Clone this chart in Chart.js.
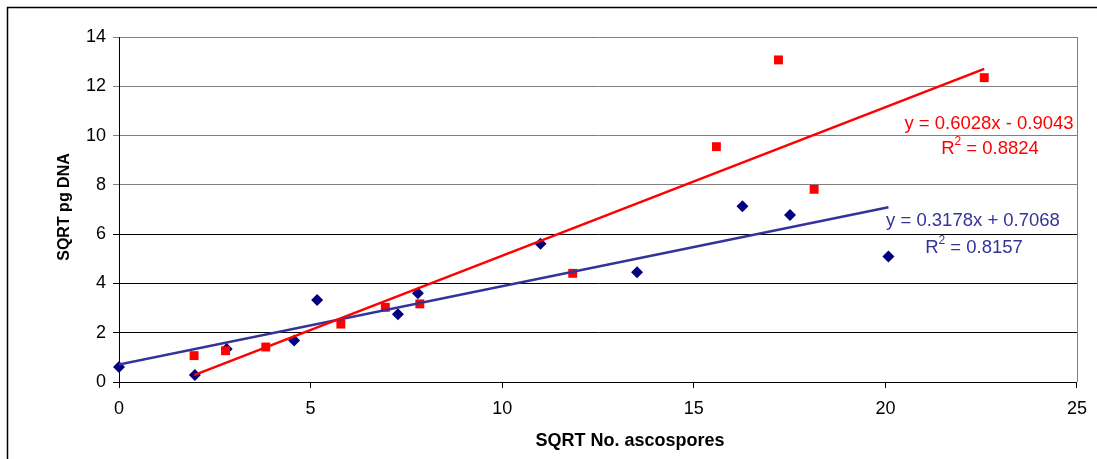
<!DOCTYPE html>
<html>
<head>
<meta charset="utf-8">
<script src="https://cdn.jsdelivr.net/npm/chart.js@4.4.0/dist/chart.umd.min.js"></script>
<style>
  body { margin: 0; background: #fff; }
  canvas { display: block; }
</style>
</head>
<body>
<canvas id="ascoChart" width="1097" height="459"></canvas>
<script>
// blue diamonds
const blueX = [0, 1.98, 2.81, 4.57, 5.17, 7.28, 7.80, 11.0, 13.52, 16.27, 17.51, 20.08];
const blueY = [0.61, 0.28, 1.34, 1.68, 3.33, 2.75, 3.60, 5.61, 4.45, 7.13, 6.78, 5.09];
// red squares
const redX = [1.96, 2.78, 3.83, 5.79, 6.95, 7.85, 11.84, 15.59, 17.21, 18.14, 22.58];
const redY = [1.07, 1.27, 1.42, 2.35, 3.03, 3.17, 4.41, 9.55, 13.07, 7.82, 12.35];

// trendline coefficients as printed on the chart
const blueSlope = 0.3178, blueIntercept = 0.7068, blueR2 = '0.8157';
const redSlope = 0.6028, redIntercept = -0.9043, redR2 = '0.8824';

const xTicks = [0, 5, 10, 15, 20, 25];
const yTicks = [0, 2, 4, 6, 8, 10, 12, 14];

const FONT = '"Liberation Sans", Arial, sans-serif';
const EQ = 18.5;

function toPoints(xs, ys) {
    return xs.map((x, i) => ({ x: x, y: ys[i] }));
}

function trend(xs, m, b) {
    const lo = Math.min(...xs), hi = Math.max(...xs);
    return [{ x: lo, y: m * lo + b }, { x: hi, y: m * hi + b }];
}

function drawR2(ctx, cx, cy, value, color) {
    ctx.font = EQ + 'px ' + FONT;
    const rest = ' = ' + value;
    const wR = ctx.measureText('R').width;
    const wRest = ctx.measureText(rest).width;
    ctx.font = '12px ' + FONT;
    const w2 = ctx.measureText('2').width;
    let x = cx - (wR + w2 + wRest) / 2;
    ctx.fillStyle = color;
    ctx.textAlign = 'left';
    ctx.textBaseline = 'middle';
    ctx.font = EQ + 'px ' + FONT;
    ctx.fillText('R', x, cy);
    x += wR;
    ctx.font = '12px ' + FONT;
    ctx.fillText('2', x, cy - 7);
    x += w2;
    ctx.font = EQ + 'px ' + FONT;
    ctx.fillText(rest, x, cy);
}

const extras = {
    id: 'extras',
    beforeDraw(chart) {
        const ctx = chart.ctx;
        ctx.save();
        ctx.fillStyle = '#fff';
        ctx.fillRect(0, 0, chart.width, chart.height);
        ctx.restore();
    },
    afterDraw(chart) {
        const ctx = chart.ctx, a = chart.chartArea;
        ctx.save();
        // right edge of plot area
        ctx.strokeStyle = '#808080';
        ctx.lineWidth = 1;
        ctx.beginPath();
        ctx.moveTo(a.right + 0.5, a.top);
        ctx.lineTo(a.right + 0.5, a.bottom);
        ctx.stroke();
        // outer frame (top and left visible)
        ctx.strokeStyle = '#000';
        ctx.lineWidth = 1.5;
        ctx.beginPath();
        ctx.moveTo(7.5, chart.height);
        ctx.lineTo(7.5, 7.5);
        ctx.lineTo(chart.width, 7.5);
        ctx.stroke();

        // axis titles
        ctx.fillStyle = '#000';
        ctx.font = 'bold 18px ' + FONT;
        ctx.textAlign = 'center';
        ctx.textBaseline = 'middle';
        ctx.fillText('SQRT No. ascospores', 630, 441);
        ctx.font = 'bold 16px ' + FONT;
        ctx.translate(65, 207);
        ctx.rotate(-Math.PI / 2);
        ctx.fillText('SQRT pg DNA', 0, 0);
        ctx.setTransform(1, 0, 0, 1, 0, 0);

        // equations
        ctx.font = EQ + 'px ' + FONT;
        ctx.textAlign = 'center';
        ctx.fillStyle = '#ff0000';
        ctx.fillText('y = 0.6028x - 0.9043', a.right - 88, a.top + 87);
        drawR2(ctx, a.right - 87, a.top + 112, redR2, '#ff0000');
        ctx.font = EQ + 'px ' + FONT;
        ctx.textAlign = 'center';
        ctx.fillStyle = '#333399';
        ctx.fillText('y = 0.3178x + 0.7068', a.right - 104, a.top + 184);
        drawR2(ctx, a.right - 103, a.top + 211, blueR2, '#333399');
        ctx.restore();
    }
};

const ctx = document.getElementById('ascoChart').getContext('2d');
new Chart(ctx, {
    type: 'scatter',
    data: {
        datasets: [{
            label: 'Red trend',
            type: 'line',
            data: trend(redX, redSlope, redIntercept),
            borderColor: '#ff0000',
            borderWidth: 2.5,
            pointRadius: 0,
            fill: false,
            order: 0
        }, {
            label: 'Blue trend',
            type: 'line',
            data: trend(blueX, blueSlope, blueIntercept),
            borderColor: '#333399',
            borderWidth: 2.5,
            pointRadius: 0,
            fill: false,
            order: 0
        }, {
            label: 'Red',
            data: toPoints(redX, redY),
            pointStyle: 'rect',
            pointRadius: 6.3,
            backgroundColor: '#ff0000',
            borderColor: '#ff0000',
            borderWidth: 0,
            clip: false,
            order: 1
        }, {
            label: 'Blue',
            data: toPoints(blueX, blueY),
            pointStyle: 'rectRot',
            pointRadius: 6,
            backgroundColor: '#000080',
            borderColor: '#000080',
            borderWidth: 0,
            clip: false,
            order: 1
        }]
    },
    options: {
        responsive: false,
        animation: false,
        layout: { padding: { left: 0, top: 37, right: 19, bottom: 0 } },
        plugins: {
            legend: { display: false },
            tooltip: { enabled: false }
        },
        scales: {
            x: {
                type: 'linear',
                min: 0,
                max: 25,
                afterBuildTicks: s => { s.ticks = xTicks.map(v => ({ value: v })); },
                afterFit: s => { s.height = 77; },
                ticks: { color: '#000', padding: 10, font: { family: FONT, size: 18 } },
                grid: { drawOnChartArea: false, color: '#000', tickLength: 6 },
                border: { color: '#000', width: 1 }
            },
            y: {
                min: 0,
                max: 14,
                afterBuildTicks: s => { s.ticks = yTicks.map(v => ({ value: v })); },
                afterFit: s => { s.width = 119; },
                ticks: { color: '#000', padding: 7, font: { family: FONT, size: 18 } },
                grid: {
                    color: c => (c.tick && c.tick.value >= 8 ? '#808080' : '#000'),
                    tickLength: 6
                },
                border: { color: '#000', width: 1 }
            }
        }
    },
    plugins: [extras]
});
</script>
</body>
</html>
